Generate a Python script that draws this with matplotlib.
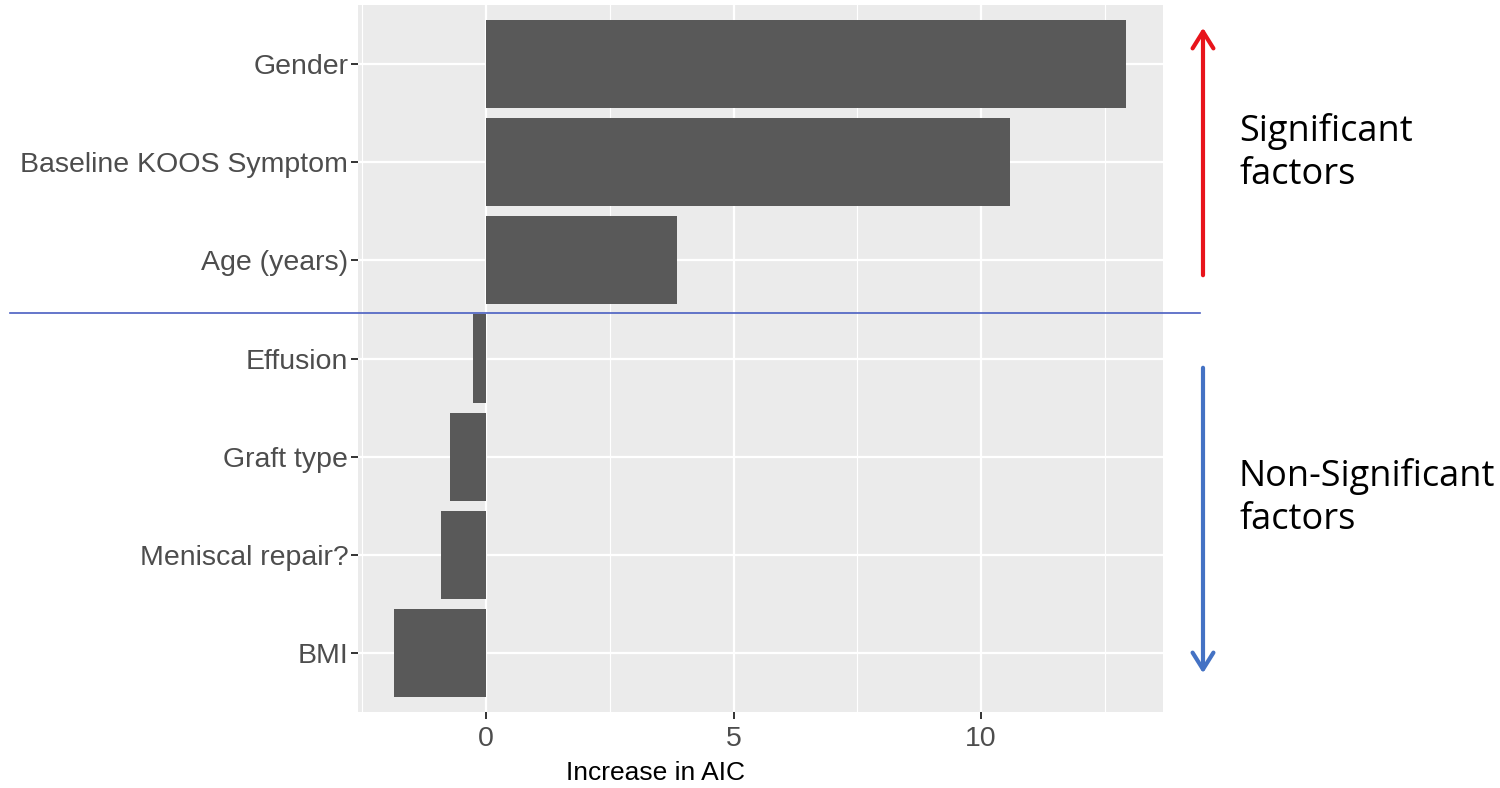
import matplotlib
matplotlib.use("Agg")
import matplotlib.pyplot as plt
from matplotlib.lines import Line2D
from matplotlib.patches import FancyArrowPatch

categories = ["BMI", "Meniscal repair?", "Graft type", "Effusion",
              "Age (years)", "Baseline KOOS Symptom", "Gender"]
values = [-1.86, -0.91, -0.73, -0.26, 3.86, 10.59, 12.93]
xticks = [0, 5, 10]
xlabel = "Increase in AIC"

fig = plt.figure(figsize=(15, 7.88), dpi=100)
ax = fig.add_axes([358/1500, 1-712/788, (1163-358)/1500, (712-5)/788])
ax.set_facecolor("#EBEBEB")
ypos = list(range(1, len(categories)+1))
ax.barh(ypos, values, height=0.9, color="#595959", zorder=3)
ax.set_xlim(-2.59, 13.68)
ax.set_ylim(0.4, 7.6)
ax.set_yticks(ypos)
ax.set_yticklabels(categories)
ax.set_xticks(xticks)
ax.set_xticks([-2.5, 2.5, 7.5, 12.5], minor=True)
ax.grid(which="major", color="white", linewidth=1.6, zorder=0)
ax.grid(which="minor", axis="x", color="white", linewidth=0.8, zorder=0)
ax.set_axisbelow(True)
for s in ax.spines.values():
    s.set_visible(False)
ax.tick_params(axis="both", which="major", color="#333333", length=5, width=1.4,
               labelcolor="#4D4D4D", labelsize=20.5, pad=2)
ax.tick_params(axis="x", which="major", pad=5)
ax.tick_params(axis="both", which="minor", length=0)
for lab in ax.get_xticklabels() + ax.get_yticklabels():
    lab.set_family("Liberation Sans")

fig.text(655/1500, 1-773/788, xlabel, fontsize=19, color="black", family="Liberation Sans",
         ha="center", va="center")

# separator line
fig.add_artist(Line2D([10/1500, 1200/1500], [1-313/788, 1-313/788],
                      color="#4A5FC1", linewidth=1.2, transform=fig.transFigure))
# arrows
fig.add_artist(FancyArrowPatch((1203/1500, 1-278/788), (1203/1500, 1-25/788),
                               transform=fig.transFigure, arrowstyle="->,head_length=8,head_width=5",
                               color="#E8141B", linewidth=3, mutation_scale=1.5))
fig.add_artist(FancyArrowPatch((1203/1500, 1-365/788), (1203/1500, 1-676/788),
                               transform=fig.transFigure, arrowstyle="->,head_length=8,head_width=5",
                               color="#4472C4", linewidth=3, mutation_scale=1.5))
fig.text(1239/1500, 1-153/788, "Significant\nfactors", fontsize=26, family="Open Sans",
         va="center", ha="left", linespacing=1.25)
fig.text(1239/1500, 1-498/788, "Non-Significant\nfactors", fontsize=26, family="Open Sans",
         va="center", ha="left", linespacing=1.25)

fig.savefig("out.png", dpi=100, facecolor="white")
